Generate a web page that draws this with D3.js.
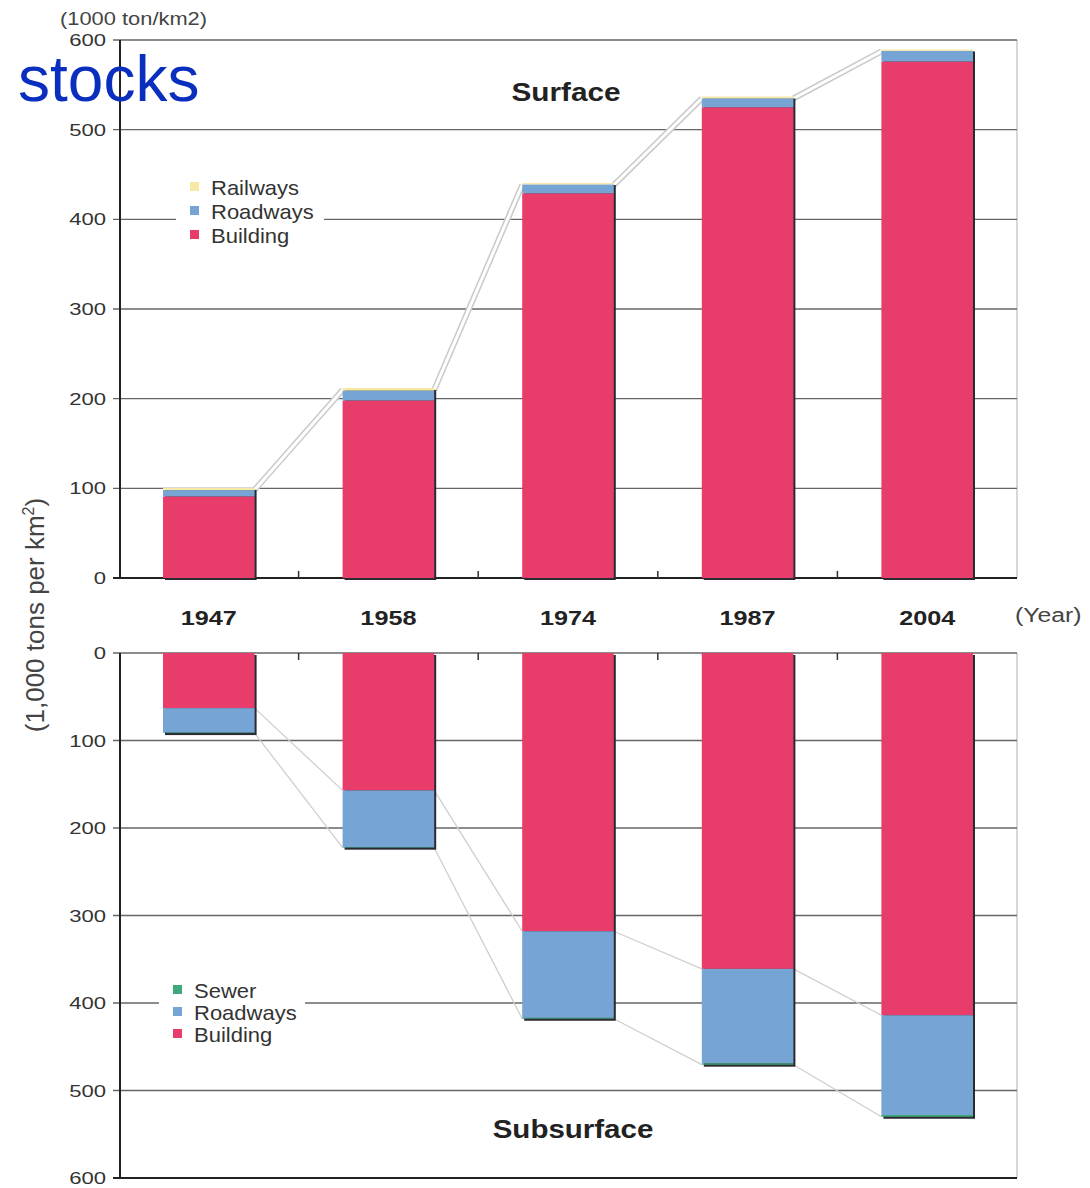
<!DOCTYPE html>
<html>
<head>
<meta charset="utf-8">
<script src="https://cdn.jsdelivr.net/npm/d3@7"></script>
<style>
  body { margin: 0; background: #fff; }
  svg { font-family: "Liberation Sans", Arial, sans-serif; }
</style>
</head>
<body>
<svg id="chart" width="1090" height="1188"></svg>
<script>
var years = ["1947", "1958", "1974", "1987", "2004"];

// surface stocks (1000 t / km2)
var surfBuilding = [91, 198, 429, 525, 576];
var surfRoadways = [7, 11, 10, 10, 12];
var surfRailways = [2.5, 3, 1.5, 2, 1.5];

// subsurface stocks
var subBuilding = [63, 157, 318, 361, 414];
var subRoadways = [28, 65, 99, 108, 114];
var subSewer = [0.5, 0.5, 1, 1.5, 2];

var yTicks = [0, 100, 200, 300, 400, 500, 600];

var colors = {Building: "#e83d6a", Roadways: "#76a4d5", Railways: "#f7e8a6", Sewer: "#3fa97a"};

var svg = d3.select("#chart");

var x = d3.scaleBand()
    .domain(years)
    .range([119, 1017])
    .paddingInner(0.49)
    .paddingOuter(0.245);

var yTop = d3.scaleLinear().domain([0, 600]).range([578, 40]);
var yBot = d3.scaleLinear().domain([0, 600]).range([653, 1178]);

var surfRows = years.map(function(y, i) {
    return {year: y, Building: surfBuilding[i], Roadways: surfRoadways[i], Railways: surfRailways[i]};
});
var subRows = years.map(function(y, i) {
    return {year: y, Building: subBuilding[i], Roadways: subRoadways[i], Sewer: subSewer[i]};
});

var surfStack = d3.stack().keys(["Building", "Roadways", "Railways"])(surfRows);
var subStack = d3.stack().keys(["Building", "Roadways", "Sewer"])(subRows);

// text that is a bit wider than the font (the source figure is stretched sideways)
function label(parent, px, py, str, size, sx, anchor, weight, fill) {
    return parent.append("text")
        .attr("transform", "translate(" + px + "," + py + ") scale(" + sx + ",1)")
        .attr("text-anchor", anchor || "start")
        .attr("font-size", size)
        .attr("font-weight", weight || "normal")
        .attr("fill", fill || "#333")
        .text(str);
}

// ---------- frames & grid ----------
function drawPanel(y, top) {
    var g = svg.append("g");
    g.append("line")
        .attr("x1", 1017).attr("x2", 1017)
        .attr("y1", y(0)).attr("y2", y(600))
        .attr("stroke", "#bdbdbd").attr("stroke-width", 1.2);
    g.selectAll(".grid")
        .data(yTicks)
        .enter().append("line")
        .attr("class", "grid")
        .attr("x1", 113).attr("x2", 1017)
        .attr("y1", function(d) { return y(d); })
        .attr("y2", function(d) { return y(d); })
        .attr("stroke", function(d) { return (top && d === 0) || (!top && d === 600) ? "#222" : "#666"; })
        .attr("stroke-width", function(d) { return (top && d === 0) || (!top && d === 600) ? 2 : 1.4; });
    g.append("line")
        .attr("x1", 120).attr("x2", 120)
        .attr("y1", y(0)).attr("y2", y(600))
        .attr("stroke", "#222").attr("stroke-width", 2);
    var bounds = years.slice(1).map(function(d) { return x(d) - x.step() * x.paddingInner() / 2; });
    g.selectAll(".ctick")
        .data(bounds)
        .enter().append("line")
        .attr("x1", function(d) { return d; })
        .attr("x2", function(d) { return d; })
        .attr("y1", y(0))
        .attr("y2", top ? y(0) - 7 : y(0) + 7)
        .attr("stroke", "#333").attr("stroke-width", 1.5);
    yTicks.forEach(function(d) {
        label(g, 106, y(d) + 6, d, 17, 1.3, "end", "normal", "#333");
    });
}
drawPanel(yTop, true);
drawPanel(yBot, false);

// ---------- connectors ----------
var surfTotals = surfRows.map(function(d) { return d.Building + d.Roadways + d.Railways; });
var segs = d3.pairs(years.map(function(d, i) { return i; }));
function topPath(p) {
    return "M" + (x(years[p[0]]) + x.bandwidth()) + "," + (yTop(surfTotals[p[0]]) + 2) +
           "L" + x(years[p[1]]) + "," + (yTop(surfTotals[p[1]]) + 2);
}
svg.append("g").selectAll("path")
    .data(segs)
    .enter().append("path")
    .attr("d", topPath)
    .attr("stroke", "#c9c9c9").attr("stroke-width", 6).attr("fill", "none");
svg.append("g").selectAll("path")
    .data(segs)
    .enter().append("path")
    .attr("d", topPath)
    .attr("stroke", "#fff").attr("stroke-width", 3).attr("fill", "none");

var subLevels = [subBuilding, subRows.map(function(d) { return d.Building + d.Roadways + d.Sewer; })];
subLevels.forEach(function(vals) {
    svg.append("g").selectAll("path")
        .data(segs)
        .enter().append("path")
        .attr("d", function(p) {
            return "M" + (x(years[p[0]]) + x.bandwidth()) + "," + yBot(vals[p[0]]) +
                   "L" + x(years[p[1]]) + "," + yBot(vals[p[1]]);
        })
        .attr("stroke", "#cfcfcf").attr("stroke-width", 1.3).attr("fill", "none");
});

// ---------- bars ----------
function drawBars(stack, y, rows, totalFn) {
    var g = svg.append("g");
    g.selectAll(".shadow")
        .data(rows)
        .enter().append("rect")
        .attr("x", function(d) { return x(d.year) + 2; })
        .attr("width", x.bandwidth())
        .attr("y", function(d) { return Math.min(y(0), y(totalFn(d))) + 2; })
        .attr("height", function(d) { return Math.abs(y(totalFn(d)) - y(0)); })
        .attr("fill", "#2a2a33");
    stack.forEach(function(layer) {
        g.selectAll(".l" + layer.key)
            .data(layer)
            .enter().append("rect")
            .attr("x", function(d) { return x(d.data.year); })
            .attr("width", x.bandwidth())
            .attr("y", function(d) { return Math.min(y(d[0]), y(d[1])); })
            .attr("height", function(d) { return Math.abs(y(d[1]) - y(d[0])); })
            .attr("fill", colors[layer.key]);
    });
}
drawBars(surfStack, yTop, surfRows, function(d) { return d.Building + d.Roadways + d.Railways; });
drawBars(subStack, yBot, subRows, function(d) { return d.Building + d.Roadways + d.Sewer; });

// ---------- legends ----------
function drawLegend(keys, x0, y0, w, step, fs) {
    var g = svg.append("g");
    g.append("rect")
        .attr("x", x0 - 14).attr("y", y0 - 14)
        .attr("width", w).attr("height", step * keys.length + 10)
        .attr("fill", "#fff");
    keys.forEach(function(k, i) {
        g.append("rect")
            .attr("x", x0).attr("y", y0 + i * step - 6)
            .attr("width", 9).attr("height", 9)
            .attr("fill", colors[k]);
        label(g, x0 + 21, y0 + i * step + 7, k, fs, 1.1, "start", "normal", "#333");
    });
}
drawLegend(["Railways", "Roadways", "Building"], 190, 188, 148, 24, 20);
drawLegend(["Sewer", "Roadways", "Building"], 173, 991, 146, 22, 20);

// ---------- labels ----------
years.forEach(function(d) {
    label(svg, x(d) + x.bandwidth() / 2, 625, d, 21, 1.2, "middle", "bold", "#222");
});

label(svg, 1015, 622, "(Year)", 21, 1.18, "start", "normal", "#444");
label(svg, 566, 101, "Surface", 25, 1.19, "middle", "bold", "#222");
label(svg, 573, 1138, "Subsurface", 25, 1.18, "middle", "bold", "#222");
label(svg, 60, 25, "(1000 ton/km2)", 17.5, 1.25, "start", "normal", "#444");

var yt = svg.append("text")
    .attr("transform", "translate(44,615) rotate(-90)")
    .attr("text-anchor", "middle")
    .attr("font-size", 26).attr("fill", "#444");
yt.append("tspan").text("(1,000 tons per km");
yt.append("tspan").attr("font-size", 16).attr("dy", -10).text("2");
yt.append("tspan").attr("dy", 10).text(")");

svg.append("text")
    .attr("x", 18).attr("y", 101)
    .attr("font-size", 64).attr("fill", "#0a2fbf")
    .text("stocks");
</script>
</body>
</html>
